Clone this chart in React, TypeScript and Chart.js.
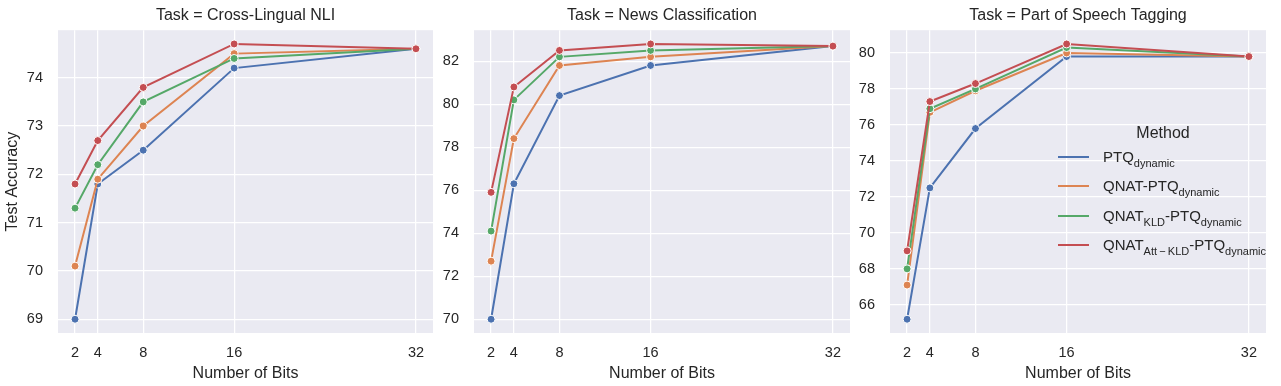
import React, { useEffect, useRef } from "react";
import { Chart, registerables } from "chart.js";

Chart.register(...registerables);

// ---------------- data ----------------
const bits = [2, 4, 8, 16, 32];
const methodColors = ["#4c72b0", "#dd8452", "#55a868", "#c44e52"];

const nliPTQ = [69.0, 71.8, 72.5, 74.2, 74.6];
const nliQNAT = [70.1, 71.9, 73.0, 74.5, 74.6];
const nliKLD = [71.3, 72.2, 73.5, 74.4, 74.6];
const nliAttKLD = [71.8, 72.7, 73.8, 74.7, 74.6];

const newsPTQ = [70.0, 76.3, 80.4, 81.8, 82.7];
const newsQNAT = [72.7, 78.4, 81.8, 82.2, 82.7];
const newsKLD = [74.1, 80.2, 82.2, 82.5, 82.7];
const newsAttKLD = [75.9, 80.8, 82.5, 82.8, 82.7];

const posPTQ = [65.2, 72.5, 75.8, 79.8, 79.8];
const posQNAT = [67.1, 76.7, 77.9, 80.0, 79.8];
const posKLD = [68.0, 76.9, 78.0, 80.3, 79.8];
const posAttKLD = [69.0, 77.3, 78.3, 80.5, 79.8];

const nliTicks = [69, 70, 71, 72, 73, 74];
const newsTicks = [70, 72, 74, 76, 78, 80, 82];
const posTicks = [66, 68, 70, 72, 74, 76, 78, 80];

const taskTitles = [
  "Task = Cross-Lingual NLI",
  "Task = News Classification",
  "Task = Part of Speech Tagging",
];

// ---------------- styling / layout ----------------
const FONT = "'Liberation Sans', Arial, 'DejaVu Sans', sans-serif";
const TEXT = "#262626";
const BG = "#eaeaf2";

type Panel = {
  title: string;
  series: number[][];
  ticks: number[];
  left: number;
  width: number;
  yWidth: number;
  yTitle: string;
};

const panels: Panel[] = [
  { title: taskTitles[0], series: [nliPTQ, nliQNAT, nliKLD, nliAttKLD], ticks: nliTicks, left: 0, width: 433, yWidth: 58, yTitle: "Test Accuracy" },
  { title: taskTitles[1], series: [newsPTQ, newsQNAT, newsKLD, newsAttKLD], ticks: newsTicks, left: 433, width: 417, yWidth: 41, yTitle: "" },
  { title: taskTitles[2], series: [posPTQ, posQNAT, posKLD, posAttKLD], ticks: posTicks, left: 850, width: 416, yWidth: 40, yTitle: "" },
];

const bgPlugin = {
  id: "plotBg",
  beforeDraw(chart: any) {
    const { ctx, chartArea } = chart;
    ctx.save();
    ctx.fillStyle = BG;
    ctx.fillRect(chartArea.left, chartArea.top, chartArea.right - chartArea.left, chartArea.bottom - chartArea.top);
    ctx.restore();
  },
};

function margins(series: number[][]) {
  const all = series.flat();
  const lo = Math.min(...all);
  const hi = Math.max(...all);
  const m = (hi - lo) * 0.05;
  return [lo - m, hi + m];
}

function PanelChart({ p }: { p: Panel }) {
  const ref = useRef<HTMLCanvasElement>(null);
  useEffect(() => {
    if (!ref.current) return;
    const [ymin, ymax] = margins(p.series);
    const chart = new Chart(ref.current, {
      type: "line",
      data: {
        datasets: p.series.map((vals, i) => ({
          label: String(i),
          data: vals.map((v, j) => ({ x: bits[j], y: v })),
          borderColor: methodColors[i],
          backgroundColor: methodColors[i],
          borderWidth: 2,
          pointRadius: 4,
          pointBorderColor: "#ffffff",
          pointBorderWidth: 1,
          pointBackgroundColor: methodColors[i],
          order: 3 - i,
          tension: 0,
          clip: false,
        })),
      },
      options: {
        responsive: false,
        animation: false,
        events: [],
        layout: { padding: 0, autoPadding: false },
        plugins: {
          legend: { display: false },
          tooltip: { enabled: false },
          title: {
            display: true,
            text: p.title,
            fullSize: false,
            color: TEXT,
            font: { family: FONT, size: 16, weight: "normal" },
            padding: { top: 6, bottom: 5 },
          },
        },
        scales: {
          x: {
            type: "linear",
            min: 0.5,
            max: 33.5,
            afterBuildTicks: (s: any) => {
              s.ticks = bits.map((v) => ({ value: v }));
            },
            afterFit: (s: any) => {
              s.height = 53;
              s.paddingLeft = 0;
              s.paddingRight = 0;
            },
            border: { display: false },
            grid: { color: "#ffffff", lineWidth: 1.25, drawTicks: false },
            ticks: {
              color: TEXT,
              font: { family: FONT, size: 14.5 },
              padding: 11,
              autoSkip: false,
              maxRotation: 0,
              callback: (v: any) => String(v),
            },
            title: {
              display: true,
              text: "Number of Bits",
              color: TEXT,
              font: { family: FONT, size: 16 },
              padding: { top: 0, bottom: 2.5 },
            },
          },
          y: {
            type: "linear",
            min: ymin,
            max: ymax,
            afterBuildTicks: (s: any) => {
              s.ticks = p.ticks.map((v) => ({ value: v }));
            },
            afterFit: (s: any) => {
              s.width = p.yWidth;
              s.paddingTop = 0;
              s.paddingBottom = 0;
            },
            border: { display: false },
            grid: { color: "#ffffff", lineWidth: 1.25, drawTicks: false },
            ticks: {
              color: TEXT,
              font: { family: FONT, size: 14.5 },
              padding: 15,
              callback: (v: any) => String(v),
            },
            title: {
              display: p.yTitle !== "",
              text: p.yTitle,
              color: TEXT,
              font: { family: FONT, size: 16 },
              padding: { top: 2.5, bottom: 0 },
            },
          },
        },
      },
      plugins: [bgPlugin],
    } as any);
    return () => chart.destroy();
  }, [p]);
  return (
    <canvas
      ref={ref}
      width={p.width}
      height={386}
      style={{ position: "absolute", left: p.left, top: 0, width: p.width, height: 386 }}
    />
  );
}

const legendRows: { main: string; sub?: string; main2?: string; sub2?: string }[] = [
  { main: "PTQ", sub: "dynamic" },
  { main: "QNAT-PTQ", sub: "dynamic" },
  { main: "QNAT", sub: "KLD", main2: "-PTQ", sub2: "dynamic" },
  { main: "QNAT", sub: "Att\u2009\u2212\u2009KLD", main2: "-PTQ", sub2: "dynamic" },
];

function Sub({ t }: { t?: string }) {
  if (!t) return null;
  return (
    <span style={{ fontSize: 11, position: "relative", top: 5 }}>{t}</span>
  );
}

function Legend() {
  return (
    <div style={{ position: "absolute", left: 1040, top: 120, width: 240, fontFamily: FONT, color: TEXT }}>
      <div style={{ position: "absolute", left: 0, width: 246, top: 3, textAlign: "center", fontSize: 16, lineHeight: "20px" }}>
        Method
      </div>
      {legendRows.map((r, i) => (
        <div key={i} style={{ position: "absolute", left: 0, top: 27 + i * 29.4, height: 20, width: 260 }}>
          <div style={{ position: "absolute", left: 18, top: 9, width: 31, height: 2, background: methodColors[i] }} />
          <div style={{ position: "absolute", left: 63, top: 0, fontSize: 15, lineHeight: "20px", whiteSpace: "nowrap" }}>
            {r.main}
            <Sub t={r.sub} />
            {r.main2}
            <Sub t={r.sub2} />
          </div>
        </div>
      ))}
    </div>
  );
}

export default function App() {
  return (
    <div style={{ position: "absolute", left: 0, top: 0, width: 1281, height: 386, background: "#ffffff", overflow: "hidden" }}>
      {panels.map((p, i) => (
        <PanelChart key={i} p={p} />
      ))}
      <Legend />
    </div>
  );
}
